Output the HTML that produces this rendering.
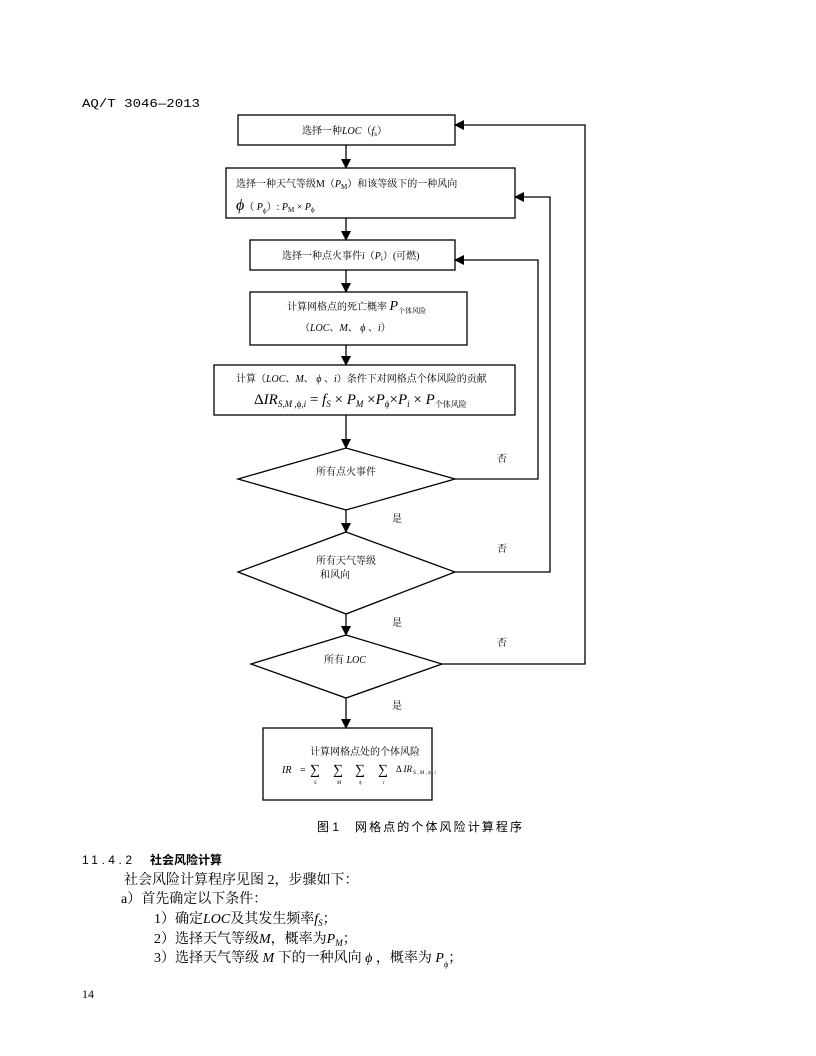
<!DOCTYPE html>
<html><head><meta charset="utf-8"><style>
html,body{margin:0;padding:0;background:#fff;}
svg{display:block}
.s{font-family:"Liberation Serif","Noto Serif CJK SC",serif;fill:#000}
.g{font-family:"Liberation Sans","Noto Sans CJK SC",sans-serif;fill:#000}
.i{font-style:italic}
</style></head><body>
<svg width="816" height="1056" viewBox="0 0 816 1056" xmlns="http://www.w3.org/2000/svg">
<defs><marker id="a" markerWidth="10" markerHeight="10" refX="9" refY="5" orient="auto" markerUnits="userSpaceOnUse"><path d="M0,0 L10,5 L0,10 z" fill="#000"/></marker></defs>
<text x="82" y="107" font-size="12" font-family="Liberation Mono" textLength="118" lengthAdjust="spacingAndGlyphs">AQ/T 3046—2013</text>
<g fill="none" stroke="#000" stroke-width="1.3">
<rect x="238" y="115" width="217" height="30"/>
<rect x="226" y="168" width="289" height="50"/>
<rect x="250" y="240" width="205" height="30"/>
<rect x="250" y="292" width="217" height="53"/>
<rect x="214" y="365" width="301" height="50"/>
<polygon points="346,448 455,479 346,510 238,479"/>
<polygon points="346,532 455,572 346,614 238,572"/>
<polygon points="346,635 442,664 346,698 251,664"/>
<rect x="263" y="728" width="169" height="72"/>
<g marker-end="url(#a)">
<line x1="346" y1="145" x2="346" y2="168"/>
<line x1="346" y1="218" x2="346" y2="240"/>
<line x1="346" y1="270" x2="346" y2="292"/>
<line x1="346" y1="345" x2="346" y2="365"/>
<line x1="346" y1="415" x2="346" y2="448"/>
<line x1="346" y1="510" x2="346" y2="532"/>
<line x1="346" y1="614" x2="346" y2="635"/>
<line x1="346" y1="698" x2="346" y2="728"/>
<polyline points="455,479 538,479 538,260 455,260"/>
<polyline points="455,572 550,572 550,197 515,197"/>
<polyline points="442,664 585,664 585,125 455,125"/>
</g></g>
<g class="s" font-size="10">
<text x="302" y="134">选择一种<tspan class="i">LOC</tspan>（<tspan class="i">f</tspan><tspan font-size="7" dy="2">s</tspan><tspan dy="-2">）</tspan></text>
<text x="236" y="187">选择一种天气等级M（<tspan class="i">P</tspan><tspan font-size="7" dy="2">M</tspan><tspan dy="-2">）和该等级下的一种风向</tspan></text>
<text x="236" y="210"><tspan font-size="16" class="i">ϕ</tspan>（ <tspan class="i">P</tspan><tspan font-size="7" dy="3">ϕ</tspan><tspan dy="-3">）:  </tspan><tspan class="i">P</tspan><tspan font-size="7" dy="2">M</tspan><tspan dy="-2"> × </tspan><tspan class="i">P</tspan><tspan font-size="7" dy="2">ϕ</tspan></text>
<text x="282" y="259">选择一种点火事件<tspan class="i">i</tspan>（<tspan class="i">P</tspan><tspan font-size="7" dy="2">i</tspan><tspan dy="-2">）(可燃)</tspan></text>
<text x="287" y="310">计算网格点的死亡概率 <tspan class="i" font-size="14">P</tspan><tspan font-size="7" dy="3">个体风险</tspan></text>
<text x="300" y="331">（<tspan class="i">LOC</tspan>、<tspan class="i">M</tspan>、 <tspan class="i">ϕ</tspan> 、<tspan class="i">i</tspan>）</text>
<text x="236" y="382">计算（<tspan class="i">LOC</tspan>、<tspan class="i">M</tspan>、 <tspan class="i">ϕ</tspan> 、<tspan class="i">i</tspan>）条件下对网格点个体风险的贡献</text>
<text x="254" y="404" font-size="15">Δ<tspan class="i">IR</tspan><tspan class="i" font-size="9" dy="3">S</tspan><tspan font-size="9">,</tspan><tspan class="i" font-size="9">M</tspan><tspan font-size="9"> ,ϕ,</tspan><tspan class="i" font-size="9">i</tspan><tspan dy="-3"> = </tspan><tspan class="i">f</tspan><tspan class="i" font-size="9" dy="3">S</tspan><tspan dy="-3"> × </tspan><tspan class="i">P</tspan><tspan class="i" font-size="9" dy="3">M</tspan><tspan dy="-3"> ×</tspan><tspan class="i">P</tspan><tspan font-size="9" dy="3">ϕ</tspan><tspan dy="-3">×</tspan><tspan class="i">P</tspan><tspan class="i" font-size="9" dy="3">i</tspan><tspan dy="-3"> × </tspan><tspan class="i">P</tspan><tspan font-size="8" dy="3">个体风险</tspan></text>
<text x="316" y="475">所有点火事件</text>
<text x="316" y="564">所有天气等级</text>
<text x="320" y="578">和风向</text>
<text x="324" y="663">所有 <tspan class="i">LOC</tspan></text>
<text x="497" y="462">否</text><text x="497" y="552">否</text><text x="497" y="646">否</text>
<text x="392" y="522">是</text><text x="392" y="626">是</text><text x="392" y="709">是</text>
<text x="310" y="755">计算网格点处的个体风险</text>
<text x="282" y="773" class="i">IR</text><text x="300" y="773">=</text>
<text x="310" y="774" font-size="14">∑</text><text x="333" y="774" font-size="14">∑</text><text x="355" y="774" font-size="14">∑</text><text x="378" y="774" font-size="14">∑</text>
<text x="314" y="784" font-size="5" class="i">S</text><text x="337" y="784" font-size="5" class="i">M</text><text x="359" y="784" font-size="5">ϕ</text><text x="383" y="784" font-size="5" class="i">i</text>
<text x="396" y="772" font-size="9">Δ <tspan class="i">IR</tspan><tspan font-size="5" dy="2">  S , M  , ϕ , i</tspan></text>
</g>
<text x="317" y="831" class="g" font-size="12">图 1</text>
<text x="355" y="831" class="g" font-size="12" textLength="167" lengthAdjust="spacing">网格点的个体风险计算程序</text>
<text x="82" y="864" class="g" font-size="12" textLength="50" lengthAdjust="spacing">11.4.2</text>
<text x="150" y="864" class="g" font-size="12" font-weight="bold">社会风险计算</text>
<g class="s" font-size="14">
<text x="124" y="884">社会风险计算程序见图 2，步骤如下：</text>
<text x="121" y="903">a）首先确定以下条件：</text>
<text x="154" y="923">1）确定<tspan class="i">LOC</tspan>及其发生频率<tspan class="i">f</tspan><tspan class="i" font-size="9" dy="3">S</tspan><tspan dy="-3">；</tspan></text>
<text x="154" y="943">2）选择天气等级<tspan class="i">M</tspan>，概率为<tspan class="i">P</tspan><tspan class="i" font-size="9" dy="3">M</tspan><tspan dy="-3">；</tspan></text>
<text x="154" y="962">3）选择天气等级 <tspan class="i">M</tspan> 下的一种风向 <tspan class="i">ϕ</tspan> ，概率为 <tspan class="i">P</tspan><tspan font-size="8" dy="5">ϕ</tspan><tspan dy="-5">；</tspan></text>
<text x="82" y="998" font-size="12">14</text>
</g>
</svg>
</body></html>
